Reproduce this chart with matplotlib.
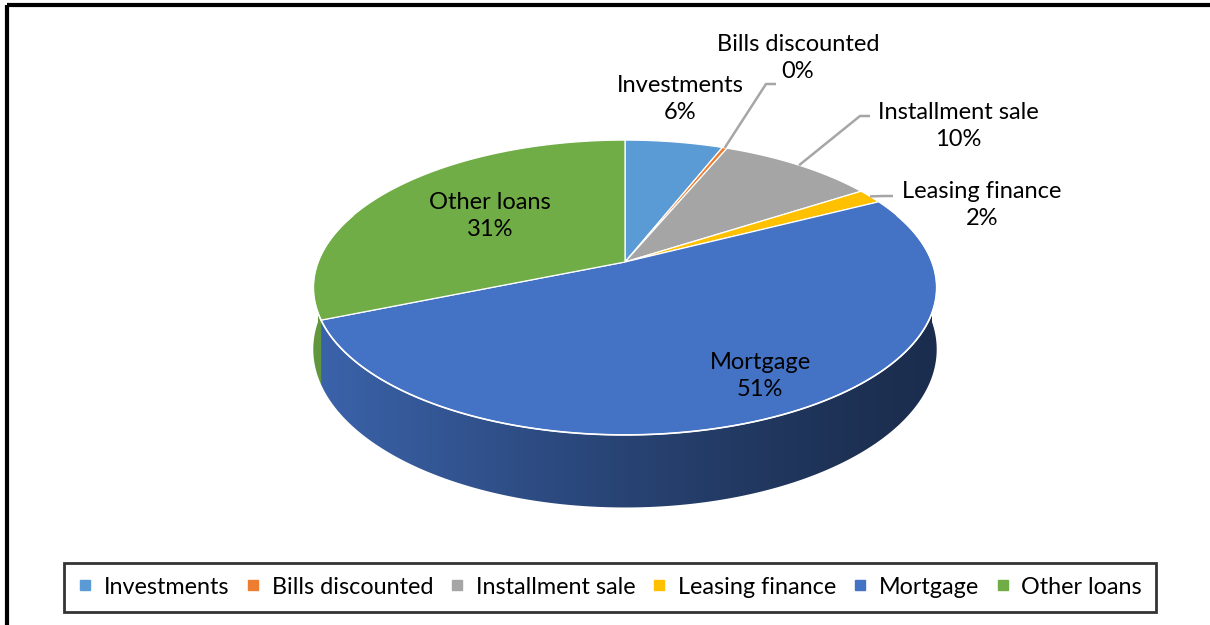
import numpy as np
import matplotlib
matplotlib.use("Agg")
import matplotlib.pyplot as plt
from matplotlib.patches import Polygon, Rectangle
from matplotlib.lines import Line2D
from matplotlib.colors import to_rgb

# data (percent of portfolio)
categories = ["Investments", "Bills discounted", "Installment sale",
              "Leasing finance", "Mortgage", "Other loans"]
shares = [6.0, 0.3, 9.6, 1.6, 51.3, 31.2]
colors = ["#5B9BD5", "#ED7D31", "#A5A5A5", "#FFC000", "#4472C4", "#70AD47"]

plt.rcParams["font.family"] = ["Lato", "DejaVu Sans"]
plt.rcParams["image.composite_image"] = False

# 3d pie geometry in pixel space
cx, cy = 625, 262
A, B, k, D = 307, 143, 0.173, 60


def project(t):
    x, y = np.cos(t), np.sin(t)
    w = 1 + k * y
    return cx + A * x / w, cy - B * y / w, D / w


def shade(xpix):
    # light from the left: brighter on the left of the wall
    c = np.clip((xpix - cx) / A, -1, 1)
    return 0.40 + 0.47 * ((1 - c) / 2) ** 1.3


fig = plt.figure(figsize=(12.1, 6.25), dpi=100)
ax = fig.add_axes([0, 0, 1, 1])
ax.axis("off")

# slice angles, excel style: start at 12 o'clock, clockwise
total = sum(shares)
cum = np.concatenate([[0], np.cumsum(shares)]) / total
t_start = np.radians(90 - cum[:-1] * 360)
t_end = np.radians(90 - cum[1:] * 360)

# side wall, front half only (t in [-pi, 0])
for i in range(len(shares)):
    lo, hi = t_end[i], t_start[i]
    for shift in (0, -2 * np.pi, 2 * np.pi):
        l2, h2 = max(lo + shift, -np.pi), min(hi + shift, 0)
        if h2 <= l2:
            continue
        tt = np.linspace(l2, h2, 300)
        xs, ys, ds = project(tt)
        pts = list(zip(xs, ys)) + list(zip(xs[::-1], (ys + ds)[::-1]))
        poly = Polygon(pts, closed=True, facecolor="none",
                       edgecolor="none", zorder=2)
        ax.add_patch(poly)
        gx = np.linspace(xs.min(), xs.max(), 400)
        img = np.array(to_rgb(colors[i]))[None, None, :] * \
            shade(gx)[None, :, None]
        im = ax.imshow(img, extent=(gx[0], gx[-1], (ys + ds).max() + 1,
                                    ys.min() - 1),
                       aspect="auto", interpolation="bilinear", zorder=2)
        im.set_clip_path(poly)

ax.set_xlim(0, 1210)
ax.set_ylim(625, 0)

# top face
for i in range(len(shares)):
    tt = np.linspace(t_start[i], t_end[i], 200)
    xs, ys, _ = project(tt)
    pts = [(cx, cy)] + list(zip(xs, ys))
    ax.add_patch(Polygon(pts, closed=True, facecolor=colors[i],
                         edgecolor="white", lw=0.9, zorder=3))

# light rim on the front edge
tt = np.radians(np.linspace(-200, 20, 400))
xs, ys, _ = project(tt)
ax.plot(xs, ys, color="white", lw=1.2, zorder=4)

# data labels
lab_pos = {
    "Investments": (680, 99),
    "Bills discounted": (798, 58),
    "Installment sale": (958, 126),
    "Leasing finance": (982, 205),
    "Mortgage": (760, 376),
    "Other loans": (490, 216),
}
leader_end = {
    "Bills discounted": (776, 84),
    "Installment sale": (870, 116),
    "Leasing finance": (893, 196),
}
for i, name in enumerate(categories):
    x, y = lab_pos[name]
    ax.text(x, y, f"{name}\n{shares[i] / total * 100:.0f}%", ha="center",
            va="center", fontsize=17, linespacing=1.35, color="black",
            zorder=6)
    if name in leader_end:
        tm = (t_start[i] + t_end[i]) / 2
        px, py, _ = project(tm)
        ex, ey = leader_end[name]
        ax.plot([px, ex - 10, ex], [py, ey, ey], color="#A6A6A6", lw=1.8,
                zorder=5, solid_capstyle="butt")

# outer chart border
ax.add_patch(Rectangle((7, 5), 1400, 800, fill=False, edgecolor="black",
                       lw=3, zorder=7))

handles = [Line2D([], [], marker="s", linestyle="", markersize=7,
                  markerfacecolor=c, markeredgecolor=c) for c in colors]
leg = fig.legend(handles, categories, loc="center", ncol=6,
                 bbox_to_anchor=(610 / 1210, 1 - 587 / 625), frameon=True,
                 fancybox=False, edgecolor="black", fontsize=16.8,
                 handlelength=0.6, handletextpad=0.5, columnspacing=0.72,
                 borderpad=0.6, borderaxespad=0)
leg.get_frame().set_linewidth(2)

fig.savefig("out.png", dpi=100)
